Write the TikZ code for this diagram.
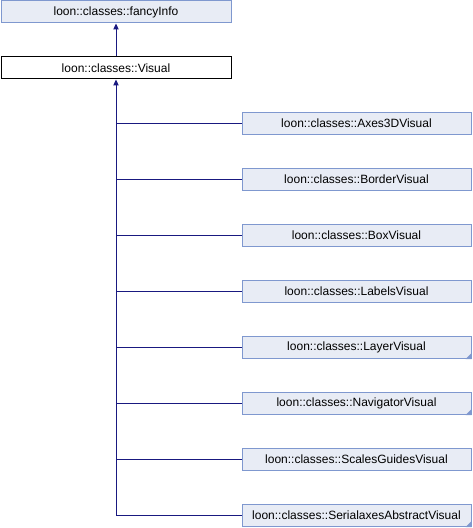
\documentclass[tikz,border=0pt]{standalone}
\usepackage{fontspec}
\setmainfont{Liberation Sans}
\usetikzlibrary{arrows.meta}
\definecolor{boxfill}{HTML}{E8ECF5}
\definecolor{boxline}{HTML}{7F98CF}
\definecolor{edge}{HTML}{191980}
\begin{document}
\begin{tikzpicture}[x=0.75pt,y=-0.75pt,
  cls/.style={draw=boxline,fill=boxfill,line width=0.75pt,minimum height=16.5pt,inner sep=0pt,font=\fontsize{9}{10}\selectfont},
  wide/.style={minimum width=172.5pt},
  kid/.style={minimum width=171.75pt},
  cur/.style={draw=black,fill=white,line width=0.75pt,minimum height=16.5pt,minimum width=172.5pt,inner sep=0pt,font=\fontsize{9}{10}\selectfont},
  edgeline/.style={draw=edge,line width=0.75pt},
  tip/.style={-{Triangle[length=4.5pt,width=4pt]}}]
\useasboundingbox (0,0) rectangle (472,528);
\node[cls,wide] (fancy) at (116,12) {loon::classes::fancyInfo};
\node[cur] (visual) at (116,68) {loon::classes::Visual};
\node[cls,kid] (c1) at (356.5,123.5) {loon::classes::Axes3DVisual};
\node[cls,kid] (c2) at (356.5,179.5) {loon::classes::BorderVisual};
\node[cls,kid] (c3) at (356.5,235.5) {loon::classes::BoxVisual};
\node[cls,kid] (c4) at (356.5,291.5) {loon::classes::LabelsVisual};
\node[cls,kid] (c5) at (356.5,347.5) {loon::classes::LayerVisual};
\node[cls,kid] (c6) at (356.5,403.5) {loon::classes::NavigatorVisual};
\node[cls,kid] (c7) at (356.5,459.5) {loon::classes::ScalesGuidesVisual};
\node[cls,kid] (c8) at (356.5,515.5) {loon::classes::SerialaxesAbstractVisual};
\foreach \n in {c5,c6,c8}{
  \fill[boxline] ([xshift=-4.5pt]\n.south east) -- (\n.south east) -- ([yshift=4.5pt]\n.south east) -- cycle;
}
\draw[edgeline,tip] (visual.north) -- (fancy.south);
\draw[edgeline,tip] (c8.west) -| (visual.south);
\foreach \n in {c1,c2,c3,c4,c5,c6,c7}{
  \draw[edgeline] (\n.west) -- (\n.west -| visual.south);
}
\end{tikzpicture}
\end{document}
